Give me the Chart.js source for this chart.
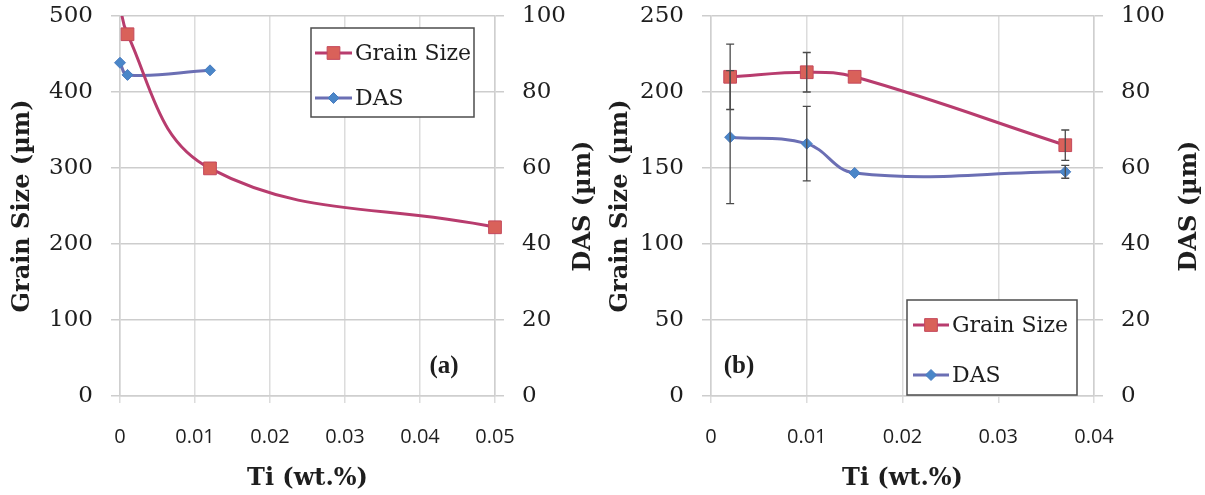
<!DOCTYPE html>
<html><head><meta charset="utf-8">
<script src="https://cdn.jsdelivr.net/npm/chart.js@4.4.1/dist/chart.umd.min.js"></script>
<style>
html,body{margin:0;padding:0;background:#fff;overflow:hidden;}
#wrap{position:relative;width:1205px;height:495px;}
#ca{position:absolute;left:0;top:0;}
#cb{position:absolute;left:600px;top:0;}
</style></head><body>
<div id="wrap"><canvas id="ca" width="600" height="495"></canvas><canvas id="cb" width="605" height="495"></canvas></div>
<script>
// ---------- Panel (a) data ----------
const tiA_grain = [0, 0.001, 0.012, 0.05];
const grainA    = [560, 476, 299.5, 222];   // first value lies above the axis (clipped)
const tiA_das   = [0, 0.001, 0.012];
const dasA      = [87.7, 84.5, 85.7];
// ---------- Panel (b) data ----------
const tiB        = [0.002, 0.010, 0.015, 0.037];
const grainB     = [210, 213, 210, 165];
const grainErrB  = [21.5, 13, 0, 10];
const dasB       = [68.1, 66.4, 58.7, 59.0];
const dasErrB    = [17.5, 9.8, 0, 1.7];
// ---------- axes ----------
const xRangeA = [0, 0.05], xRangeB = [0, 0.04], xStep = 0.01;
const grainRangeA = [0, 500], grainStepA = 100;
const grainRangeB = [0, 250], grainStepB = 50;
const dasRange = [0, 100], dasStep = 20;
const seriesNames = ['Grain Size', 'DAS'];
const xTitle = 'Ti (wt.%)', yTitle = 'Grain Size (µm)', y1Title = 'DAS (µm)';

const GRAIN_LINE = '#B83C6E', GRAIN_FILL = '#D9615A', GRAIN_EDGE = '#C4485C';
const DAS_LINE = '#6B6FB4', DAS_FILL = '#4A86C8', DAS_EDGE = '#4A7CC0';
const TXT = '#1e1e1e';
const TITLE_FONT = 'bold 24px "DejaVu Serif"';

const pts = (xs, ys) => xs.map((x, i) => ({x, y: ys[i]}));
const fmt = v => String(Number(v.toFixed(2)));

const errorBars = {
  id: 'errorBars',
  afterDatasetsDraw(chart) {
    const ctx = chart.ctx;
    chart.data.datasets.forEach(ds => {
      if (!ds.errors) return;
      const ys = chart.scales[ds.yAxisID], xs = chart.scales.x;
      ctx.save();
      ctx.strokeStyle = '#4a4a4a'; ctx.lineWidth = 1.3;
      ds.data.forEach((p, j) => {
        const e = ds.errors[j]; if (!e) return;
        const x = xs.getPixelForValue(p.x);
        const a = ys.getPixelForValue(p.y + e), b = ys.getPixelForValue(p.y - e);
        ctx.beginPath();
        ctx.moveTo(x, a); ctx.lineTo(x, b);
        ctx.moveTo(x - 4, a); ctx.lineTo(x + 4, a);
        ctx.moveTo(x - 4, b); ctx.lineTo(x + 4, b);
        ctx.stroke();
      });
      ctx.restore();
    });
  }
};

const boxLegend = {
  id: 'boxLegend',
  afterDraw(chart, args, o) {
    if (!o || !o.rows) return;
    const ctx = chart.ctx;
    ctx.save();
    ctx.fillStyle = '#fff';
    ctx.fillRect(o.x, o.y, o.w, o.h);
    ctx.strokeStyle = '#4d4d4d'; ctx.lineWidth = 1.5;
    ctx.strokeRect(o.x, o.y, o.w, o.h);
    o.rows.forEach(r => {
      const ds = chart.data.datasets[r.ds];
      const cy = o.y + r.dy;
      ctx.strokeStyle = ds.borderColor; ctx.lineWidth = 3;
      ctx.beginPath(); ctx.moveTo(o.x + o.sx, cy); ctx.lineTo(o.x + o.sx + o.sw, cy); ctx.stroke();
      ctx.fillStyle = ds.pointBackgroundColor; ctx.strokeStyle = ds.pointBorderColor; ctx.lineWidth = 1;
      Chart.helpers.drawPoint(ctx, {pointStyle: ds.pointStyle, radius: r.rad, borderWidth: 1, rotation: 0}, o.x + o.sx + o.sw / 2, cy);
      ctx.fillStyle = TXT;
      ctx.font = '22px "DejaVu Serif"';
      ctx.textBaseline = 'middle'; ctx.textAlign = 'left';
      ctx.fillText(ds.label, o.x + o.tx, cy + 1);
    });
    ctx.restore();
  }
};

// panel tag and the right-hand axis title (reads bottom-to-top like the left one)
const extraText = {
  id: 'extraText',
  afterDraw(chart, args, o) {
    const ctx = chart.ctx, ca = chart.chartArea;
    ctx.save();
    ctx.fillStyle = TXT;
    ctx.font = 'bold 25px "Liberation Serif"';
    ctx.textAlign = 'center'; ctx.textBaseline = 'middle';
    ctx.fillText(o.tag, o.tagX, o.tagY);
    ctx.translate(o.rtX, (ca.top + ca.bottom) / 2);
    ctx.rotate(-Math.PI / 2);
    ctx.font = TITLE_FONT;
    ctx.fillText(y1Title, 0, 0);
    ctx.restore();
  }
};

function grainDS(data, extra) {
  return Object.assign({
    label: seriesNames[0], data, yAxisID: 'y',
    borderColor: GRAIN_LINE, borderWidth: 3,
    pointStyle: 'rect', pointRadius: 9, pointBackgroundColor: GRAIN_FILL,
    pointBorderColor: GRAIN_EDGE, pointBorderWidth: 1,
    tension: 0.4, fill: false
  }, extra || {});
}
function dasDS(data, extra) {
  return Object.assign({
    label: seriesNames[1], data, yAxisID: 'y1',
    borderColor: DAS_LINE, borderWidth: 3,
    pointStyle: 'rectRot', pointRadius: 5.5, pointBackgroundColor: DAS_FILL,
    pointBorderColor: DAS_EDGE, pointBorderWidth: 1,
    tension: 0.4, fill: false, clip: false
  }, extra || {});
}

function scalesFor(xr, gr, gstep, leftW, rightW, leftPad) {
  const tickFontY = {family: 'DejaVu Serif', size: 23};
  const titleFont = {family: 'DejaVu Serif', size: 24, weight: 'bold'};
  const fixV = w => s => { s.width = w; s.paddingTop = 0; s.paddingBottom = 0; };
  return {
    x: {
      type: 'linear', position: 'bottom', min: xr[0], max: xr[1],
      ticks: {stepSize: xStep, font: {family: 'Open Sans', size: 20}, color: TXT, padding: 22, callback: v => fmt(v)},
      grid: {color: '#dcdcdc', lineWidth: 1.5, tickLength: 7},
      border: {color: '#cfcfcf', width: 1.5},
      title: {display: true, text: xTitle, font: titleFont, color: TXT, padding: {top: 0, bottom: 2}},
      afterFit(s) { s.height = 99; }
    },
    y: {
      type: 'linear', position: 'left', min: gr[0], max: gr[1],
      ticks: {stepSize: gstep, font: tickFontY, color: TXT, padding: 18},
      grid: {color: '#cdcdcd', lineWidth: 1.5, tickLength: 9},
      border: {color: '#cfcfcf', width: 1.5},
      title: {display: true, text: yTitle, font: titleFont, color: TXT, padding: {top: leftPad, bottom: 0}},
      afterFit: fixV(leftW)
    },
    y1: {
      type: 'linear', position: 'right', min: dasRange[0], max: dasRange[1],
      ticks: {stepSize: dasStep, font: tickFontY, color: TXT, padding: 18},
      grid: {drawOnChartArea: false, color: '#cdcdcd', lineWidth: 1.5, tickLength: 9},
      border: {color: '#cfcfcf', width: 1.5},
      title: {display: false},
      afterFit: fixV(rightW)
    }
  };
}

const common = {
  responsive: false, animation: false, devicePixelRatio: 1,
  layout: {padding: {top: 16, left: 0, right: 0, bottom: 0}},
  events: []
};

new Chart(document.getElementById('ca'), {
  type: 'line',
  data: {datasets: [
    grainDS(pts(tiA_grain, grainA), {pointRadius: grainA.map(v => v > grainRangeA[1] ? 0 : 9), clip: {left: false, top: 0, right: false, bottom: false}}),
    dasDS(pts(tiA_das, dasA))
  ]},
  options: Object.assign({}, common, {
    scales: scalesFor(xRangeA, grainRangeA, grainStepA, 120, 105, 8),
    plugins: {
      legend: {display: false}, tooltip: {enabled: false},
      boxLegend: {x: 311, y: 28, w: 163, h: 89, sx: 4, sw: 37, tx: 44, rows: [{ds: 0, dy: 25, rad: 9}, {ds: 1, dy: 70, rad: 5.5}]},
      extraText: {tag: '(a)', tagX: 444, tagY: 367, rtX: 584}
    }
  }),
  plugins: [errorBars, boxLegend, extraText]
});

new Chart(document.getElementById('cb'), {
  type: 'line',
  data: {datasets: [
    grainDS(pts(tiB, grainB), {errors: grainErrB, clip: false}),
    dasDS(pts(tiB, dasB), {errors: dasErrB})
  ]},
  options: Object.assign({}, common, {
    scales: scalesFor(xRangeB, grainRangeB, grainStepB, 111, 111, 6),
    plugins: {
      legend: {display: false}, tooltip: {enabled: false},
      boxLegend: {x: 307, y: 300, w: 170, h: 95, sx: 6, sw: 36, tx: 45, rows: [{ds: 0, dy: 25, rad: 9}, {ds: 1, dy: 75, rad: 5.5}]},
      extraText: {tag: '(b)', tagX: 139, tagY: 367, rtX: 590}
    }
  }),
  plugins: [errorBars, boxLegend, extraText]
});
</script>
</body></html>
